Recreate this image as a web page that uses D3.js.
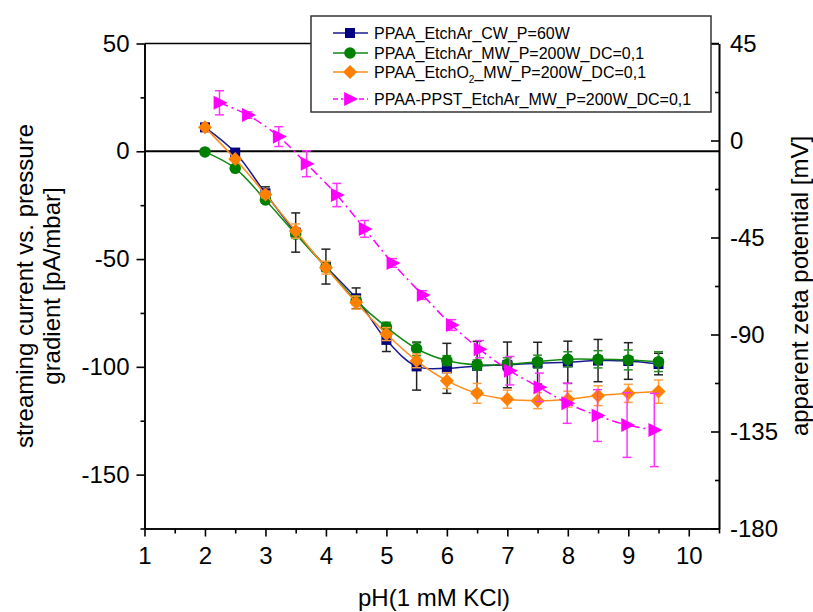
<!DOCTYPE html>
<html>
<head>
<meta charset="utf-8">
<script src="https://cdn.jsdelivr.net/npm/d3@7/dist/d3.min.js"></script>
<style>
  html, body { margin: 0; padding: 0; background: #fff; }
  svg { display: block; font-family: "Liberation Sans", Arial, sans-serif; }
</style>
</head>
<body>
<svg id="chart" width="813" height="612"></svg>
<script>
// ---------------- data ----------------
const pH = [2, 2.5, 3, 3.5, 4, 4.5, 5, 5.5, 6, 6.5, 7, 7.5, 8, 8.5, 9, 9.5];

const cwAr = [11.1, -0.6, -19.5, -37.7, -53.5, -68.2, -87.5, -99.8, -100.7, -99.6, -99.1, -98.3, -97.9, -97.1, -97.3, -98.7];
const cwArErr = [0, 0, 3, 9.1, 8.1, 4.8, 5.4, 11, 11.6, 11.4, 10.6, 9.7, 9.8, 9.8, 8.5, 5];

const mwAr = [-0.3, -7.9, -22.6, -38.4, -53.8, -69.3, -81.6, -91.6, -97.1, -99.1, -98.8, -97.6, -96.5, -96.5, -96.8, -97.6];
const mwArErr = [0, 1, 1.5, 2, 2, 2, 2.3, 3.2, 2.3, 2.3, 3, 3, 3.5, 4, 4.6, 4.6];

const mwO2 = [11.1, -3.6, -20, -37.0, -54.0, -70.2, -84.8, -97.2, -106.4, -112.3, -115, -115.7, -115, -113.4, -112.3, -111.5];
const mwO2Err = [0, 0, 1.5, 3.3, 3, 3, 3, 3.2, 3.7, 4.6, 4.2, 3.7, 3.7, 4.6, 4.2, 5.4];

const pstPH = [2.24, 2.71, 3.22, 3.68, 4.18, 4.64, 5.10, 5.60, 6.08, 6.54, 7.04, 7.53, 7.99, 8.49, 8.98, 9.43];
const pstZeta = [17.5, 11.8, 1.8, -10.8, -25.3, -41, -56.8, -71.7, -85.6, -96.8, -106.8, -114.5, -121.9, -127.6, -132, -134.3];
const pstErr = [5.6, 1.5, 4.6, 6, 5.4, 3.9, 2, 2, 2.5, 4, 6.6, 6.6, 9.3, 12, 15, 17];

const seriesNames = [
  "PPAA_EtchAr_CW_P=60W",
  "PPAA_EtchAr_MW_P=200W_DC=0,1",
  "PPAA_EtchO2_MW_P=200W_DC=0,1",
  "PPAA-PPST_EtchAr_MW_P=200W_DC=0,1"
];

const xTicks = [1, 2, 3, 4, 5, 6, 7, 8, 9, 10];
const xMinor = [1.5, 2.5, 3.5, 4.5, 5.5, 6.5, 7.5, 8.5, 9.5, 10.5];
const yTicks = [-150, -100, -50, 0, 50];
const yMinor = [-175, -125, -75, -25, 25];
const y2Ticks = [-180, -135, -90, -45, 0, 45];
const y2Minor = [-157.5, -112.5, -67.5, -22.5, 22.5];

// ---------------- layout ----------------
const svg = d3.select("#chart");
const L = 144.5, R = 719, T = 43.5, B = 528.5;
const x = d3.scaleLinear().domain([1, 10.5]).range([L, R]);
const y = d3.scaleLinear().domain([-175, 50]).range([B, T]);
const y2 = d3.scaleLinear().domain([-180, 45]).range([B, T]);

const FS = 24;
const fmt = d => String(d);

// zero line
svg.append("line")
  .attr("x1", L).attr("x2", R)
  .attr("y1", y(0)).attr("y2", y(0))
  .attr("stroke", "#000").attr("stroke-width", 2);

// top frame line
svg.append("line")
  .attr("x1", L).attr("x2", R).attr("y1", T).attr("y2", T)
  .attr("stroke", "#000").attr("stroke-width", 1.6);

function styleAxis(g) {
  g.selectAll(".domain").attr("stroke", "#000").attr("stroke-width", 1.6);
  g.selectAll(".tick line").attr("stroke", "#000").attr("stroke-width", 1.6);
  g.selectAll("text").style("font-size", FS + "px").attr("fill", "#000")
    .style("font-family", '"Liberation Sans", Arial, sans-serif');
}

// bottom axis
const gx = svg.append("g").attr("transform", `translate(0,${B})`)
  .call(d3.axisBottom(x).tickValues(xTicks).tickFormat(fmt).tickSize(8).tickPadding(10).tickSizeOuter(0));
styleAxis(gx);
const gxm = svg.append("g").attr("transform", `translate(0,${B})`)
  .call(d3.axisBottom(x).tickValues(xMinor).tickFormat("").tickSize(5).tickSizeOuter(0));
styleAxis(gxm);

// left axis
const gy = svg.append("g").attr("transform", `translate(${L},0)`)
  .call(d3.axisLeft(y).tickValues(yTicks).tickFormat(fmt).tickSize(8).tickPadding(7).tickSizeOuter(0));
styleAxis(gy);
const gym = svg.append("g").attr("transform", `translate(${L},0)`)
  .call(d3.axisLeft(y).tickValues(yMinor).tickFormat("").tickSize(4).tickSizeOuter(0));
styleAxis(gym);

// right axis (ticks inward)
const gy2 = svg.append("g").attr("transform", `translate(${R},0)`)
  .call(d3.axisRight(y2).tickValues(y2Ticks).tickFormat(fmt).tickSize(-8).tickPadding(11).tickSizeOuter(0));
styleAxis(gy2);
const gy2m = svg.append("g").attr("transform", `translate(${R},0)`)
  .call(d3.axisRight(y2).tickValues(y2Minor).tickFormat("").tickSize(-4).tickSizeOuter(0));
styleAxis(gy2m);

// axis titles
svg.append("text").attr("x", 434).attr("y", 606).attr("text-anchor", "middle")
  .style("font-size", FS + "px").text("pH(1 mM KCl)");
svg.append("text").attr("transform", "translate(33,286) rotate(-90)").attr("text-anchor", "middle")
  .style("font-size", FS + "px").text("streaming current vs. pressure");
svg.append("text").attr("transform", "translate(60,286) rotate(-90)").attr("text-anchor", "middle")
  .style("font-size", FS + "px").text("gradient [pA/mbar]");
svg.append("text").attr("transform", "translate(808,286) rotate(-90)").attr("text-anchor", "middle")
  .style("font-size", FS + "px").text("apparent zeta potential [mV]");

// ---------------- series ----------------
function triPath(s) {
  return `M${-s * 0.65},${-s * 0.78}L${s * 0.9},0L${-s * 0.65},${s * 0.78}Z`;
}
function diamondPath(s) {
  return `M0,${-s}L${s},0L0,${s}L${-s},0Z`;
}

const series = [
  { xs: pH, ys: cwAr, err: cwArErr, sy: y, color: "#000080", line: "#1a1a90", errColor: "#222", shape: d3.symbol().type(d3.symbolSquare).size(100)(), dash: null },
  { xs: pH, ys: mwAr, err: mwArErr, sy: y, color: "#008000", line: "#108a10", errColor: "#2e8b2e", shape: d3.symbol().type(d3.symbolCircle).size(105)(), dash: null },
  { xs: pH, ys: mwO2, err: mwO2Err, sy: y, color: "#ff8000", line: "#ff8c1a", errColor: "#ffa040", shape: diamondPath(7), dash: null },
  { xs: pstPH, ys: pstZeta, err: pstErr, sy: y2, color: "#ff00ff", line: "#ff00ff", errColor: "#ff33ff", shape: triPath(9), dash: "9,4,2,4" }
];

const plot = svg.append("g");
series.forEach(s => {
  const pts = s.xs.map((v, i) => ({ x: v, y: s.ys[i], e: s.err[i] }));
  const g = plot.append("g");
  // error bars
  const eb = g.selectAll(".eb").data(pts.filter(d => d.e > 0)).join("g");
  eb.append("line")
    .attr("x1", d => x(d.x)).attr("x2", d => x(d.x))
    .attr("y1", d => s.sy(d.y + d.e)).attr("y2", d => s.sy(d.y - d.e))
    .attr("stroke", s.errColor).attr("stroke-width", 1.5);
  [1, -1].forEach(sg => {
    eb.append("line")
      .attr("x1", d => x(d.x) - 4.5).attr("x2", d => x(d.x) + 4.5)
      .attr("y1", d => s.sy(d.y + sg * d.e)).attr("y2", d => s.sy(d.y + sg * d.e))
      .attr("stroke", s.errColor).attr("stroke-width", 1.5);
  });
  // line
  const lineGen = d3.line().x(d => x(d.x)).y(d => s.sy(d.y)).curve(d3.curveCatmullRom.alpha(0.5));
  g.append("path").datum(pts).attr("d", lineGen)
    .attr("fill", "none").attr("stroke", s.line).attr("stroke-width", 1.5)
    .attr("stroke-dasharray", s.dash);
  // markers
  g.selectAll(".m").data(pts).join("path")
    .attr("transform", d => `translate(${x(d.x)},${s.sy(d.y)})`)
    .attr("d", s.shape)
    .attr("fill", s.color);
});

// ---------------- legend ----------------
const lg = svg.append("g");
lg.append("rect").attr("x", 311).attr("y", 16).attr("width", 400).attr("height", 96)
  .attr("fill", "#fff").attr("stroke", "#333").attr("stroke-width", 1.5);
const rowY = [33, 53, 72, 99];
series.forEach((s, i) => {
  const cy = rowY[i];
  lg.append("line").attr("x1", 333).attr("x2", 368).attr("y1", cy).attr("y2", cy)
    .attr("stroke", s.line).attr("stroke-width", 1.5).attr("stroke-dasharray", s.dash ? "5,3,2,3" : null);
  lg.append("path").attr("transform", `translate(350,${cy})`)
    .attr("d", s.shape)
    .attr("fill", s.color);
  const t = lg.append("text").attr("x", 374).attr("y", cy).attr("dy", "0.35em")
    .style("font-size", "16px");
  const name = seriesNames[i];
  if (name.includes("EtchO2")) {
    const [a, b] = name.split("O2");
    t.append("tspan").text(a + "O");
    t.append("tspan").attr("dy", 5).style("font-size", "10px").text("2");
    t.append("tspan").attr("dy", -5).text(b);
  } else {
    t.text(name);
  }
});
</script>
</body>
</html>
